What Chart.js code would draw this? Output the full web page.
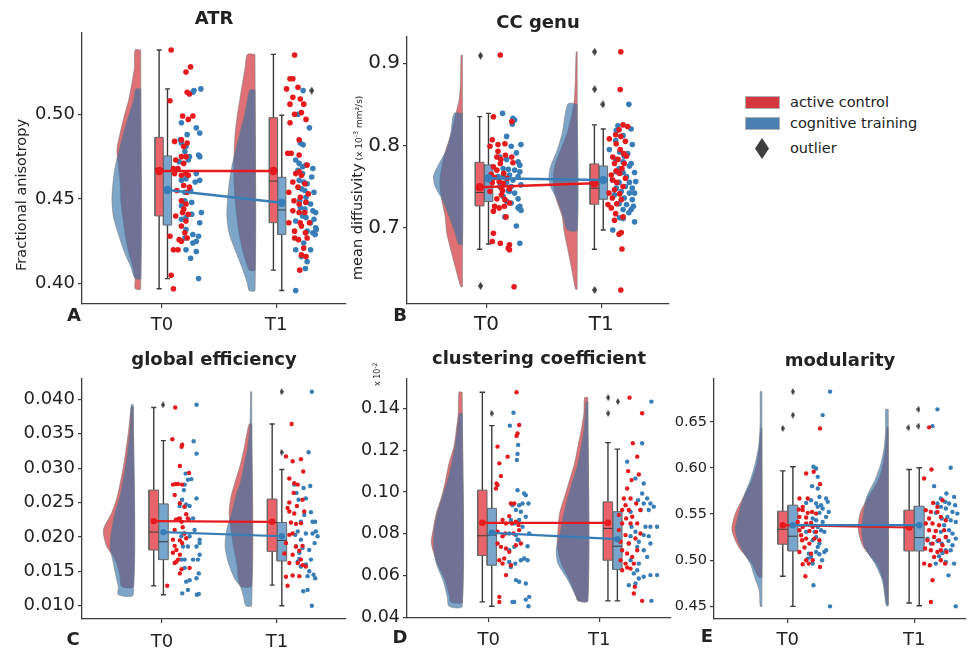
<!DOCTYPE html>
<html>
<head>
<meta charset="utf-8">
<script src="https://cdn.jsdelivr.net/npm/chart.js@4.4.1/dist/chart.umd.min.js"></script>
<style>
  body { margin: 0; background: #fff; width: 971px; height: 650px; position: relative; overflow: hidden; font-family: 'DejaVu Sans', sans-serif; color: #222; }
  canvas { position: absolute; }
  .lg { position: absolute; font-size: 14.5px; line-height: 16px; white-space: nowrap; }
  .sw { position: absolute; width: 33px; height: 11px; border: 1px solid #b0b0b0; }
</style>
</head>
<body>
<canvas id="pA"></canvas>
<canvas id="pB"></canvas>
<canvas id="pC"></canvas>
<canvas id="pD"></canvas>
<canvas id="pE"></canvas>
<div id="legend"></div>
<script>
const timeLabels = ['T0', 'T1'];
const groupNames = ['active control', 'cognitive training', 'outlier'];

// ---------- ATR (fractional anisotropy) ----------
const atrTicks = [0.40, 0.45, 0.50];
const atrMeanRed = [0.4665, 0.4665];
const atrMeanBlue = [0.4553, 0.4478];
// whisker low, q1, median, q3, whisker high
const atrBoxRed = [[0.397, 0.440, 0.468, 0.4864, 0.538], [0.408, 0.436, 0.4606, 0.498, 0.5354]];
const atrBoxBlue = [[0.403, 0.4346, 0.4665, 0.4754, 0.515], [0.396, 0.4291, 0.4435, 0.4628, 0.4994]];
// [value, density]
const atrVioRedT0 = [[0.538,17],[0.528,19],[0.518,27],[0.508,37],[0.499,50],[0.489,62],[0.479,72],[0.469,67],[0.459,62],[0.449,60],[0.439,54],[0.429,47],[0.419,37],[0.410,24],[0.403,17],[0.397,17]];
const atrVioBlueT0 = [[0.515,15],[0.508,22],[0.499,37],[0.489,52],[0.479,65],[0.469,77],[0.459,84],[0.449,87],[0.439,82],[0.429,67],[0.419,50],[0.410,30],[0.403,17]];
const atrVioRedT1 = [[0.5354,23],[0.5275,30],[0.5183,38],[0.5085,46],[0.4986,54],[0.4888,60],[0.4789,63],[0.4691,64],[0.4593,63],[0.4494,60],[0.4396,55],[0.4297,48],[0.4199,38],[0.410,22],[0.408,18]];
const atrVioBlueT1 = [[0.5144,16],[0.5085,23],[0.4986,33],[0.4888,46],[0.4789,58],[0.4691,70],[0.4593,78],[0.4494,83],[0.4396,85],[0.4297,78],[0.4199,60],[0.410,40],[0.4002,23],[0.396,18]];
const atrRedT0 = [[0.08,0.538],[0.25,0.528],[0.21,0.525],[0.24,0.512],[0.22,0.513],[0.07,0.508],[0.18,0.499],[0.23,0.497],[0.27,0.499],[0.11,0.484],[0.17,0.485],[0.19,0.481],[0.22,0.483],[0.17,0.475],[0.12,0.473],[0.21,0.475],[0.10,0.468],[0.19,0.471],[0.14,0.468],[0.11,0.465],[0.21,0.465],[0.17,0.464],[0.23,0.464],[0.19,0.458],[0.24,0.457],[0.13,0.455],[0.22,0.454],[0.17,0.449],[0.21,0.447],[0.19,0.444],[0.18,0.442],[0.23,0.441],[0.12,0.440],[0.21,0.437],[0.17,0.434],[0.07,0.428],[0.20,0.430],[0.15,0.426],[0.22,0.427],[0.17,0.425],[0.14,0.420],[0.10,0.420],[0.08,0.405],[0.10,0.397]];
const atrBlueT0 = [[0.34,0.515],[0.28,0.514],[0.27,0.513],[0.30,0.492],[0.33,0.489],[0.17,0.495],[0.22,0.488],[0.16,0.485],[0.17,0.483],[0.21,0.481],[0.20,0.478],[0.24,0.475],[0.33,0.475],[0.32,0.476],[0.15,0.472],[0.23,0.473],[0.30,0.465],[0.17,0.461],[0.21,0.462],[0.29,0.460],[0.33,0.461],[0.25,0.455],[0.20,0.454],[0.18,0.448],[0.20,0.449],[0.26,0.448],[0.17,0.446],[0.345,0.442],[0.21,0.439],[0.17,0.438],[0.26,0.441],[0.33,0.436],[0.21,0.432],[0.20,0.427],[0.27,0.429],[0.32,0.428],[0.30,0.425],[0.27,0.424],[0.21,0.420],[0.25,0.415],[0.30,0.419],[0.32,0.403]];
const atrRedT1 = [[1.16,0.535],[1.12,0.521],[1.145,0.521],[1.09,0.515],[1.19,0.516],[1.145,0.510],[1.21,0.509],[1.24,0.506],[1.12,0.506],[1.22,0.501],[1.16,0.500],[1.26,0.497],[1.12,0.495],[1.20,0.485],[1.10,0.477],[1.13,0.477],[1.20,0.476],[1.27,0.470],[1.17,0.465],[1.20,0.466],[1.22,0.464],[1.145,0.460],[1.19,0.457],[1.25,0.459],[1.11,0.454],[1.21,0.451],[1.28,0.453],[1.155,0.449],[1.20,0.447],[1.26,0.448],[1.145,0.443],[1.20,0.442],[1.25,0.442],[1.11,0.436],[1.21,0.436],[1.29,0.436],[1.16,0.431],[1.22,0.434],[1.255,0.430],[1.195,0.426],[1.27,0.427],[1.16,0.427],[1.24,0.421],[1.22,0.417],[1.26,0.416],[1.205,0.408]];
const atrBlueT1 = [[1.235,0.514],[1.29,0.492],[1.19,0.500],[1.21,0.483],[1.235,0.482],[1.17,0.473],[1.20,0.471],[1.23,0.469],[1.26,0.470],[1.32,0.468],[1.19,0.467],[1.23,0.465],[1.31,0.463],[1.20,0.461],[1.24,0.460],[1.27,0.459],[1.22,0.456],[1.25,0.455],[1.33,0.454],[1.26,0.451],[1.205,0.449],[1.26,0.448],[1.30,0.447],[1.21,0.445],[1.25,0.444],[1.32,0.443],[1.345,0.442],[1.23,0.440],[1.26,0.439],[1.17,0.437],[1.33,0.438],[1.30,0.436],[1.345,0.433],[1.27,0.431],[1.32,0.430],[1.34,0.429],[1.35,0.432],[1.17,0.420],[1.24,0.424],[1.22,0.416],[1.30,0.420],[1.27,0.413],[1.255,0.409],[1.17,0.396]];
const atrOutliers = [[1.31, 0.514]];

// ---------- CC genu (mean diffusivity) ----------
const ccgTicks = [0.7, 0.8, 0.9];
const ccgMeanRed = [0.7491, 0.754];
const ccgMeanBlue = [0.760, 0.758];
const ccgBoxRed = [[0.6736, 0.7264, 0.7426, 0.7795, 0.8351], [0.6736, 0.7284, 0.7479, 0.7775, 0.825]];
const ccgBoxBlue = [[0.680, 0.7317, 0.750, 0.7763, 0.839], [0.697, 0.7345, 0.758, 0.775, 0.820]];
const ccgVioRedT0 = [[0.910,4],[0.8757,6],[0.8554,10],[0.8351,22],[0.8148,33],[0.7945,50],[0.7742,62],[0.754,68],[0.7337,62],[0.7134,52],[0.6931,47],[0.6728,35],[0.6525,22],[0.628,5]];
const ccgVioBlueT0 = [[0.839,25],[0.8148,35],[0.7945,48],[0.7742,75],[0.762,87],[0.750,82],[0.7337,60],[0.7134,40],[0.6931,22],[0.680,12]];
const ccgVioRedT1 = [[0.914,3],[0.8757,6],[0.8505,10],[0.8148,30],[0.7945,50],[0.7742,68],[0.754,72],[0.7337,62],[0.7134,45],[0.697,40],[0.6728,28],[0.6525,18],[0.625,5]];
const ccgVioBlueT1 = [[0.8505,28],[0.8148,45],[0.7945,60],[0.7742,80],[0.762,85],[0.750,80],[0.7337,60],[0.7134,42],[0.697,30]];
const ccgRedT0 = [[0.12,0.910],[0.06,0.835],[0.05,0.807],[0.10,0.801],[0.03,0.799],[0.16,0.802],[0.10,0.793],[0.09,0.786],[0.125,0.783],[0.12,0.778],[0.22,0.786],[0.23,0.779],[0.06,0.774],[0.09,0.770],[0.15,0.766],[0.07,0.761],[0.11,0.756],[0.05,0.755],[0.145,0.754],[0.03,0.744],[0.13,0.740],[0.09,0.735],[0.16,0.734],[0.20,0.730],[0.155,0.726],[0.07,0.726],[0.11,0.724],[0.06,0.720],[0.20,0.747],[0.22,0.829],[0.165,0.788],[0.06,0.693],[0.05,0.683],[0.12,0.681],[0.20,0.679],[0.19,0.675],[0.20,0.673],[0.24,0.628],[0.14,0.745],[0.18,0.760],[0.04,0.765],[0.17,0.713],[0.13,0.748]];
const ccgBlueT0 = [[0.14,0.839],[0.23,0.833],[0.245,0.831],[0.225,0.826],[0.30,0.801],[0.175,0.811],[0.215,0.799],[0.26,0.791],[0.115,0.786],[0.175,0.783],[0.275,0.780],[0.29,0.776],[0.145,0.772],[0.19,0.771],[0.245,0.770],[0.29,0.768],[0.20,0.764],[0.145,0.762],[0.275,0.762],[0.23,0.758],[0.175,0.755],[0.115,0.750],[0.215,0.750],[0.30,0.752],[0.20,0.744],[0.245,0.742],[0.145,0.738],[0.275,0.735],[0.175,0.732],[0.215,0.730],[0.29,0.726],[0.275,0.724],[0.30,0.721],[0.16,0.713],[0.26,0.702],[0.29,0.681],[0.10,0.762],[0.19,0.745]];
const ccgRedT1 = [[1.17,0.914],[1.165,0.868],[1.19,0.825],[1.155,0.819],[1.125,0.813],[1.17,0.811],[1.07,0.808],[1.21,0.805],[1.13,0.802],[1.165,0.795],[1.195,0.790],[1.22,0.787],[1.10,0.786],[1.145,0.783],[1.115,0.778],[1.20,0.778],[1.18,0.772],[1.13,0.769],[1.087,0.764],[1.16,0.766],[1.10,0.758],[1.135,0.755],[1.19,0.750],[1.115,0.746],[1.067,0.742],[1.16,0.741],[1.096,0.736],[1.174,0.734],[1.135,0.729],[1.058,0.728],[1.087,0.724],[1.125,0.717],[1.19,0.713],[1.115,0.709],[1.174,0.694],[1.155,0.692],[1.18,0.674],[1.17,0.624],[1.23,0.823],[1.21,0.760]];
const ccgBlueT1 = [[1.24,0.850],[1.145,0.824],[1.26,0.820],[1.13,0.818],[1.19,0.812],[1.125,0.806],[1.27,0.801],[1.07,0.795],[1.16,0.792],[1.23,0.790],[1.20,0.787],[1.125,0.783],[1.19,0.780],[1.26,0.778],[1.245,0.775],[1.155,0.772],[1.13,0.768],[1.19,0.767],[1.29,0.767],[1.22,0.762],[1.096,0.758],[1.155,0.755],[1.245,0.755],[1.30,0.756],[1.21,0.750],[1.13,0.748],[1.27,0.748],[1.174,0.744],[1.115,0.740],[1.245,0.742],[1.29,0.742],[1.20,0.736],[1.155,0.729],[1.27,0.734],[1.22,0.728],[1.28,0.726],[1.19,0.722],[1.26,0.722],[1.24,0.718],[1.16,0.712],[1.19,0.711],[1.29,0.707],[1.10,0.697]];
const ccgOutliers = [[-0.052,0.9093],[-0.052,0.629],[0.942,0.914],[0.942,0.8684],[0.942,0.6241],[1.014,0.850]];

// ---------- global efficiency ----------
const geffTicks = [0.010, 0.015, 0.020, 0.025, 0.030, 0.035, 0.040];
const geffMeanRed = [0.0223, 0.0222];
const geffMeanBlue = [0.0207, 0.0201];
const geffBoxRed = [[0.0129, 0.0181, 0.0207, 0.0268, 0.0388], [0.0130, 0.0179, 0.0221, 0.0255, 0.0364]];
const geffBoxBlue = [[0.0116, 0.0167, 0.0193, 0.0248, 0.034], [0.010, 0.0165, 0.0195, 0.0221, 0.0298]];
const geffVioRedT0 = [[0.0389,6],[0.0355,14],[0.0307,28],[0.0259,48],[0.0235,65],[0.0210,90],[0.0186,80],[0.0172,60],[0.0162,50],[0.0143,40],[0.0128,35]];
const geffVioBlueT0 = [[0.0392,6],[0.0355,10],[0.0307,22],[0.0259,40],[0.0235,55],[0.0210,65],[0.0186,70],[0.0162,60],[0.0138,50],[0.0128,45],[0.0116,45]];
const geffVioRedT1 = [[0.0364,8],[0.0331,22],[0.0307,33],[0.0283,48],[0.0259,62],[0.0235,68],[0.0210,62],[0.0186,55],[0.0162,45],[0.0129,35]];
const geffVioBlueT1 = [[0.0411,3],[0.0364,5],[0.0331,12],[0.0307,22],[0.0283,32],[0.0259,48],[0.0235,60],[0.0210,75],[0.0186,80],[0.0162,70],[0.0138,50],[0.0129,35],[0.0114,25],[0.010,18]];
const geffRedT0 = [[0.115,0.0388],[0.09,0.0342],[0.175,0.0334],[0.17,0.0331],[0.155,0.0303],[0.235,0.0293],[0.12,0.0277],[0.095,0.0276],[0.14,0.0277],[0.175,0.0276],[0.11,0.0261],[0.155,0.0249],[0.195,0.0244],[0.155,0.0227],[0.14,0.0226],[0.17,0.0222],[0.225,0.0227],[0.18,0.0214],[0.11,0.0210],[0.095,0.0196],[0.155,0.0195],[0.11,0.0187],[0.125,0.0181],[0.175,0.0191],[0.095,0.0177],[0.155,0.0174],[0.14,0.0167],[0.11,0.0162],[0.125,0.0164],[0.17,0.0153],[0.24,0.0155],[0.155,0.0147],[0.045,0.0129],[0.195,0.0205],[0.21,0.0198],[0.12,0.0225],[0.21,0.0233]];
const geffBlueT0 = [[0.30,0.0392],[0.275,0.0339],[0.30,0.0321],[0.205,0.0292],[0.225,0.0283],[0.255,0.0284],[0.197,0.0276],[0.19,0.0268],[0.175,0.0254],[0.21,0.0247],[0.24,0.0245],[0.197,0.0244],[0.153,0.0245],[0.30,0.0256],[0.27,0.0227],[0.234,0.0225],[0.283,0.0210],[0.197,0.0205],[0.24,0.0201],[0.327,0.0196],[0.327,0.0191],[0.30,0.0186],[0.168,0.0201],[0.182,0.0186],[0.225,0.0186],[0.168,0.0167],[0.197,0.0167],[0.27,0.0167],[0.312,0.0167],[0.327,0.0174],[0.30,0.0140],[0.21,0.0135],[0.24,0.0137],[0.176,0.0118],[0.225,0.0123],[0.303,0.0116],[0.32,0.0117],[0.197,0.0155],[0.32,0.0147]];
const geffRedT1 = [[1.127,0.0364],[1.078,0.0317],[1.136,0.0310],[1.208,0.0313],[1.228,0.0295],[1.107,0.0285],[1.15,0.0278],[1.18,0.0276],[1.145,0.0264],[1.222,0.0254],[1.107,0.0250],[1.092,0.0242],[1.173,0.0245],[1.107,0.0237],[1.15,0.0234],[1.237,0.0237],[1.121,0.0221],[1.165,0.0219],[1.208,0.0220],[1.107,0.0203],[1.136,0.0205],[1.078,0.0191],[1.165,0.0186],[1.222,0.0187],[1.064,0.0176],[1.136,0.0174],[1.194,0.0180],[1.208,0.0167],[1.107,0.0162],[1.18,0.0162],[1.136,0.0144],[1.078,0.0142],[1.194,0.0143],[1.092,0.0129],[1.25,0.0157],[1.222,0.0159]];
const geffBlueT1 = [[1.303,0.0411],[1.275,0.0323],[1.15,0.0276],[1.17,0.0264],[1.231,0.0271],[1.289,0.0274],[1.188,0.0254],[1.251,0.0256],[1.295,0.0236],[1.237,0.0232],[1.208,0.0222],[1.309,0.0222],[1.332,0.0222],[1.18,0.0208],[1.251,0.0205],[1.309,0.0205],[1.338,0.0208],[1.353,0.0201],[1.208,0.0196],[1.165,0.0186],[1.222,0.0184],[1.194,0.0177],[1.28,0.0181],[1.327,0.0191],[1.295,0.0167],[1.18,0.0164],[1.208,0.0157],[1.251,0.0160],[1.28,0.0150],[1.318,0.0145],[1.266,0.0143],[1.228,0.0121],[1.266,0.0123],[1.332,0.0140],[1.303,0.0100],[1.159,0.0203],[1.194,0.0168]];
const geffOutliers = [[0.009,0.0392],[1.04,0.0411],[1.04,0.0323]];

// ---------- clustering coefficient ----------
const clusTicks = [0.04, 0.06, 0.08, 0.10, 0.12, 0.14];
const clusMeanRed = [0.0853, 0.0853];
const clusMeanBlue = [0.0805, 0.0775];
const clusBoxRed = [[0.0475, 0.0697, 0.0791, 0.1009, 0.1477], [0.048, 0.0674, 0.0826, 0.0953, 0.1236]];
const clusBoxBlue = [[0.0454, 0.065, 0.0794, 0.0922, 0.1317], [0.048, 0.063, 0.0741, 0.0906, 0.1205]];
const clusVioRedT0 = [[0.1477,10],[0.1376,12],[0.1296,18],[0.1217,25],[0.1137,40],[0.1057,50],[0.0977,62],[0.0898,78],[0.0818,88],[0.0754,93],[0.0658,75],[0.0579,52],[0.0499,38],[0.0475,35]];
const clusVioBlueT0 = [[0.1376,8],[0.1296,15],[0.1217,22],[0.1137,32],[0.1057,44],[0.0977,60],[0.0898,75],[0.0818,85],[0.0738,86],[0.0658,78],[0.0579,58],[0.0499,45],[0.0454,40]];
const clusVioRedT1 = [[0.1451,10],[0.1376,12],[0.1296,20],[0.1217,30],[0.1137,40],[0.1057,55],[0.0977,70],[0.0898,85],[0.0818,90],[0.0738,92],[0.0658,80],[0.0579,55],[0.0499,35],[0.048,30]];
const clusVioBlueT1 = [[0.1432,5],[0.1296,12],[0.1137,30],[0.1057,45],[0.0977,60],[0.0898,72],[0.0818,82],[0.0722,95],[0.0658,90],[0.0579,60],[0.0499,35],[0.048,30]];
const clusRedT0 = [[0.222,0.1477],[0.243,0.132],[0.23,0.128],[0.222,0.1268],[0.151,0.1169],[0.071,0.1217],[0.085,0.1137],[0.098,0.1076],[0.063,0.1041],[0.071,0.1033],[0.058,0.1017],[0.177,0.0945],[0.204,0.0945],[0.164,0.0885],[0.111,0.0866],[0.138,0.085],[0.217,0.0858],[0.185,0.085],[0.238,0.0842],[0.243,0.0818],[0.071,0.081],[0.111,0.0789],[0.132,0.0802],[0.198,0.0802],[0.098,0.0738],[0.138,0.073],[0.071,0.0754],[0.164,0.0714],[0.124,0.0682],[0.085,0.0674],[0.111,0.0658],[0.138,0.0603],[0.177,0.065],[0.085,0.0499],[0.085,0.0475],[0.217,0.0746],[0.257,0.0754]];
const clusBlueT0 = [[0.198,0.1379],[0.169,0.1317],[0.235,0.1225],[0.23,0.1182],[0.225,0.1153],[0.23,0.1009],[0.283,0.0993],[0.296,0.0985],[0.27,0.0945],[0.19,0.0937],[0.243,0.0937],[0.217,0.0914],[0.317,0.0945],[0.257,0.0906],[0.243,0.0866],[0.204,0.085],[0.177,0.0866],[0.296,0.0882],[0.27,0.0834],[0.323,0.0802],[0.164,0.0802],[0.217,0.0794],[0.23,0.0773],[0.238,0.077],[0.204,0.0738],[0.164,0.0722],[0.31,0.0741],[0.283,0.0682],[0.257,0.0674],[0.164,0.0666],[0.31,0.0674],[0.212,0.0658],[0.177,0.0642],[0.217,0.0579],[0.243,0.0571],[0.296,0.0563],[0.19,0.0475],[0.204,0.0475],[0.296,0.0486],[0.317,0.0454],[0.323,0.0499]];
const clusRedT1 = [[1.122,0.1451],[1.222,0.1376],[1.148,0.1233],[1.183,0.1169],[1.111,0.110],[1.196,0.1084],[1.138,0.1057],[1.103,0.1017],[1.077,0.0969],[1.13,0.0969],[1.09,0.0937],[1.175,0.0945],[1.063,0.0914],[1.116,0.0914],[1.209,0.0914],[1.037,0.089],[1.095,0.0874],[1.143,0.0882],[1.063,0.085],[1.13,0.085],[1.183,0.085],[1.037,0.0818],[1.09,0.0794],[1.209,0.0802],[1.05,0.0762],[1.116,0.0754],[1.169,0.0778],[1.063,0.0722],[1.103,0.0706],[1.143,0.069],[1.183,0.0722],[1.05,0.0674],[1.09,0.0658],[1.13,0.0634],[1.156,0.0658],[1.063,0.0626],[1.164,0.0547],[1.156,0.0515],[1.222,0.048],[1.103,0.0639]];
const clusBlueT1 = [[1.296,0.1432],[1.222,0.1233],[1.103,0.1145],[1.169,0.1065],[1.235,0.1041],[1.222,0.0993],[1.262,0.0969],[1.19,0.0961],[1.288,0.0945],[1.235,0.0945],[1.13,0.0906],[1.209,0.0914],[1.275,0.0914],[1.315,0.093],[1.138,0.0834],[1.249,0.0834],[1.288,0.0834],[1.341,0.0834],[1.169,0.081],[1.235,0.0794],[1.275,0.0789],[1.13,0.0789],[1.196,0.0762],[1.116,0.0754],[1.183,0.0738],[1.235,0.0722],[1.288,0.0754],[1.13,0.0674],[1.196,0.0658],[1.262,0.069],[1.156,0.0611],[1.196,0.0587],[1.235,0.0595],[1.288,0.0603],[1.341,0.0603],[1.169,0.0563],[1.116,0.0555],[1.296,0.048],[1.183,0.0626]];
const clusOutliers = [[0.024,0.1376],[0.952,0.1451],[0.952,0.1376],[1.029,0.1432]];

// ---------- modularity ----------
const modTicks = [0.45, 0.50, 0.55, 0.60, 0.65];
const modMeanRed = [0.5379, 0.5354];
const modMeanBlue = [0.5379, 0.5379];
const modBoxRed = [[0.4826, 0.5173, 0.5335, 0.5531, 0.5968], [0.4536, 0.51, 0.5361, 0.5542, 0.5983]];
const modBoxBlue = [[0.45, 0.51, 0.526, 0.5596, 0.6012], [0.4507, 0.51, 0.5245, 0.5585, 0.6001]];
const modVioRedT0 = [[0.6428,3],[0.6229,8],[0.6048,15],[0.5867,30],[0.5686,55],[0.5505,80],[0.5325,90],[0.5144,70],[0.4963,30],[0.4818,10]];
const modVioBlueT0 = [[0.6826,5],[0.659,5],[0.641,6],[0.6229,10],[0.6048,20],[0.5867,35],[0.5686,55],[0.5505,70],[0.5325,80],[0.5144,65],[0.4963,35],[0.4818,22],[0.4674,8],[0.45,5]];
const modVioRedT1 = [[0.6439,4],[0.6229,8],[0.6048,15],[0.5867,30],[0.5686,60],[0.5505,85],[0.5325,90],[0.5144,75],[0.4963,35],[0.4782,15],[0.4601,8],[0.4522,5]];
const modVioBlueT1 = [[0.6634,8],[0.641,8],[0.6229,12],[0.6048,22],[0.5867,40],[0.5686,65],[0.5505,75],[0.5325,80],[0.5144,72],[0.4963,40],[0.4782,18],[0.4601,10],[0.4507,6]];
const modRedT0 = [[0.255,0.6428],[0.145,0.5939],[0.205,0.5958],[0.255,0.5824],[0.092,0.5668],[0.158,0.5668],[0.118,0.5578],[0.087,0.5549],[0.118,0.5542],[0.192,0.5523],[0.158,0.5513],[0.224,0.5505],[0.092,0.5469],[0.145,0.5462],[0.079,0.5415],[0.184,0.5404],[0.145,0.5397],[0.118,0.5361],[0.197,0.5361],[0.092,0.5325],[0.171,0.5317],[0.224,0.5307],[0.105,0.527],[0.145,0.5234],[0.211,0.5234],[0.113,0.5216],[0.171,0.518],[0.132,0.5137],[0.092,0.5089],[0.184,0.5071],[0.145,0.4999],[0.118,0.4956],[0.166,0.4963],[0.255,0.4927],[0.139,0.4826],[0.197,0.4999],[0.25,0.5216]];
const modBlueT0 = [[0.334,0.6826],[0.276,0.6572],[0.203,0.6012],[0.224,0.5994],[0.237,0.5903],[0.192,0.5802],[0.237,0.5777],[0.25,0.5686],[0.303,0.5668],[0.316,0.5632],[0.263,0.5596],[0.224,0.5614],[0.184,0.565],[0.145,0.5621],[0.237,0.5578],[0.276,0.556],[0.324,0.5523],[0.25,0.5513],[0.303,0.5469],[0.197,0.5451],[0.224,0.5433],[0.276,0.5415],[0.237,0.5361],[0.263,0.5325],[0.211,0.5307],[0.289,0.5307],[0.145,0.5307],[0.224,0.5252],[0.197,0.5216],[0.25,0.518],[0.237,0.5144],[0.303,0.5108],[0.289,0.5089],[0.224,0.5089],[0.25,0.5064],[0.184,0.5035],[0.158,0.5017],[0.197,0.4963],[0.271,0.4999],[0.203,0.4728],[0.334,0.45],[0.166,0.5071]];
const modRedT1 = [[1.118,0.6439],[1.137,0.5983],[1.079,0.5885],[1.15,0.5621],[1.184,0.5578],[1.224,0.565],[1.092,0.5542],[1.132,0.5523],[1.118,0.5451],[1.184,0.5523],[1.211,0.5469],[1.25,0.5433],[1.092,0.5397],[1.145,0.5397],[1.197,0.5379],[1.118,0.5325],[1.171,0.5317],[1.237,0.5325],[1.158,0.5252],[1.105,0.5216],[1.197,0.5216],[1.145,0.518],[1.224,0.5162],[1.087,0.5126],[1.132,0.5108],[1.184,0.5089],[1.211,0.5108],[1.255,0.5089],[1.158,0.5035],[1.211,0.4999],[1.124,0.4945],[1.079,0.4963],[1.245,0.4963],[1.145,0.4782],[1.132,0.4547],[1.25,0.5252]];
const modBlueT1 = [[1.184,0.6634],[1.145,0.6453],[1.289,0.6001],[1.158,0.5802],[1.255,0.5722],[1.211,0.5668],[1.245,0.5632],[1.184,0.5614],[1.276,0.5614],[1.316,0.5686],[1.324,0.5596],[1.211,0.5578],[1.25,0.556],[1.303,0.5523],[1.171,0.5513],[1.342,0.5505],[1.263,0.5469],[1.218,0.5451],[1.289,0.5433],[1.329,0.5415],[1.237,0.5379],[1.276,0.5325],[1.211,0.5307],[1.303,0.5288],[1.25,0.5252],[1.329,0.5234],[1.271,0.5209],[1.184,0.5209],[1.218,0.518],[1.303,0.5162],[1.25,0.5108],[1.289,0.5108],[1.224,0.5079],[1.197,0.5042],[1.25,0.4981],[1.316,0.4963],[1.171,0.4963],[1.271,0.4836],[1.329,0.45],[1.132,0.518],[1.105,0.5234]];
const modOutliers = [[-0.04,0.6428],[0.04,0.6826],[0.04,0.6572],[0.955,0.6435],[1.034,0.6634],[1.034,0.6453]];

// ---------- styling ----------
Chart.defaults.font.family = "'DejaVu Sans', sans-serif";
Chart.defaults.color = '#222';
const RED = '#e41a1c', BLUE = '#377eb8';
const VIO_RED = 'rgba(204,35,44,0.65)', VIO_BLUE = 'rgba(52,114,169,0.64)';
const BOX_RED = '#e8646a', BOX_BLUE = '#78a5cd';
const INK = '#3c3c3c';

function diamond(w, h) {
  const c = document.createElement('canvas');
  c.width = w; c.height = h;
  const g = c.getContext('2d');
  g.fillStyle = '#3d3d3d';
  g.beginPath();
  g.moveTo(w / 2, 0); g.lineTo(w, h / 2); g.lineTo(w / 2, h); g.lineTo(0, h / 2);
  g.closePath(); g.fill();
  return c;
}

const panels = [
  { id: 'pA', title: 'ATR', area: [82, 347, 33, 304], xr: [-0.70, 1.61], yr: [0.388, 0.548],
    yTicks: atrTicks, dec: 2, xTicks: [0, 1], groups: [0, 1],
    off: { vio: -0.186, red: -0.025, blue: 0.048, half: 0.036 }, vk: 1 / 345,
    vio: { red: [atrVioRedT0, atrVioRedT1], blue: [atrVioBlueT0, atrVioBlueT1] },
    box: { red: atrBoxRed, blue: atrBoxBlue }, mean: { red: atrMeanRed, blue: atrMeanBlue },
    pts: { red: [atrRedT0, atrRedT1], blue: [atrBlueT0, atrBlueT1] }, out: atrOutliers,
    yw: 80, xh: 40, titleY: 19, fy: 18, fx: 18, xPad: 7, ptR: 2.8, meanR: 4.2, meanW: 2.5, dia: diamond(5, 8),
    texts: [
      { runs: [['A', 18, 'bold', 0]], x: 74, y: 316, rot: false, align: 'center', base: 'middle' },
      { runs: [['Fractional anisotropy', 14.5, 'normal', 0]], x: 22, y: 195, rot: true, align: 'center', base: 'middle' }
    ] },
  { id: 'pB', title: 'CC genu', area: [407, 670, 37, 304], xr: [-0.693, 1.59], yr: [0.607, 0.932],
    yTicks: ccgTicks, dec: 1, xTicks: [0, 1], groups: [0, 1],
    off: { vio: -0.21, red: -0.06, blue: 0.017, half: 0.038 }, vk: 1 / 345,
    vio: { red: [ccgVioRedT0, ccgVioRedT1], blue: [ccgVioBlueT0, ccgVioBlueT1] },
    box: { red: ccgBoxRed, blue: ccgBoxBlue }, mean: { red: ccgMeanRed, blue: ccgMeanBlue },
    pts: { red: [ccgRedT0, ccgRedT1], blue: [ccgBlueT0, ccgBlueT1] }, out: ccgOutliers,
    yw: 80, xh: 40, titleY: 23, fy: 20, fx: 20, xPad: 5, ptR: 2.8, meanR: 4.2, meanW: 2.5, dia: diamond(5, 8),
    texts: [
      { runs: [['B', 18, 'bold', 0]], x: 400, y: 316, rot: false, align: 'center', base: 'middle' },
      { runs: [['mean diffusivity', 14.5, 'normal', 0], [' (x 10', 9, 'normal', 0], ['-3', 6.5, 'normal', 4], [' mm²/s)', 9, 'normal', 0]],
        x: 362, y: 280, rot: true, align: 'start', base: 'alphabetic' }
    ] },
  { id: 'pC', title: 'global efficiency', area: [82, 347, 379, 619], xr: [-0.696, 1.60], yr: [0.00807, 0.04295],
    yTicks: geffTicks, dec: 3, xTicks: [0, 1], groups: [0, 1.03],
    off: { vio: -0.25, red: -0.072, blue: 0.012, half: 0.042 }, vk: 1 / 346,
    vio: { red: [geffVioRedT0, geffVioRedT1], blue: [geffVioBlueT0, geffVioBlueT1] },
    box: { red: geffBoxRed, blue: geffBoxBlue }, mean: { red: geffMeanRed, blue: geffMeanBlue },
    pts: { red: [geffRedT0, geffRedT1], blue: [geffBlueT0, geffBlueT1] }, out: geffOutliers,
    yw: 80, xh: 40, titleY: 360, fy: 18, fx: 18, xPad: 9, ptR: 2.2, meanR: 3.2, meanW: 2.2, dia: diamond(4, 7),
    texts: [
      { runs: [['C', 18, 'bold', 0]], x: 73, y: 640, rot: false, align: 'center', base: 'middle' }
    ] },
  { id: 'pD', title: 'clustering coefficient', area: [407, 672, 379, 618], xr: [-0.65, 1.452], yr: [0.0398, 0.154],
    yTicks: clusTicks, dec: 2, xTicks: [0, 0.88], groups: [0, 1],
    off: { vio: -0.21, red: -0.05, blue: 0.025, half: 0.037 }, vk: 1 / 378,
    vio: { red: [clusVioRedT0, clusVioRedT1], blue: [clusVioBlueT0, clusVioBlueT1] },
    box: { red: clusBoxRed, blue: clusBoxBlue }, mean: { red: clusMeanRed, blue: clusMeanBlue },
    pts: { red: [clusRedT0, clusRedT1], blue: [clusBlueT0, clusBlueT1] }, out: clusOutliers,
    yw: 80, xh: 40, titleY: 359, fy: 17.5, fx: 18, xPad: 8, ptR: 2.2, meanR: 3.2, meanW: 2.2, dia: diamond(4, 7),
    texts: [
      { runs: [['D', 18, 'bold', 0]], x: 400, y: 638, rot: false, align: 'center', base: 'middle' },
      { runs: [['x 10', 8, 'normal', 0], ['-2', 6, 'normal', 3]], x: 380, y: 386, rot: true, align: 'start', base: 'alphabetic' }
    ] },
  { id: 'pE', title: 'modularity', area: [714, 967, 379, 619], xr: [-0.584, 1.41], yr: [0.4363, 0.6963],
    yTicks: modTicks, dec: 2, xTicks: [0, 1], groups: [0, 1],
    off: { vio: -0.205, red: -0.04, blue: 0.04, half: 0.039 }, vk: 1 / 380,
    vio: { red: [modVioRedT0, modVioRedT1], blue: [modVioBlueT0, modVioBlueT1] },
    box: { red: modBoxRed, blue: modBoxBlue }, mean: { red: modMeanRed, blue: modMeanBlue },
    pts: { red: [modRedT0, modRedT1], blue: [modBlueT0, modBlueT1] }, out: modOutliers,
    yw: 60, xh: 40, titleY: 361, fy: 14.5, fx: 18, xPad: 7, ptR: 2.2, meanR: 3.2, meanW: 2.2, dia: diamond(4, 7),
    texts: [
      { runs: [['E', 18, 'bold', 0]], x: 707, y: 637, rot: false, align: 'center', base: 'middle' }
    ] }
];

// half violin: flat side on the right, density growing to the left
function violinShape(profile, base, k) {
  const top = profile[0][0], bottom = profile[profile.length - 1][0];
  const pts = [{ x: base, y: top }];
  profile.forEach(([v, d]) => pts.push({ x: base - d * k, y: v }));
  pts.push({ x: base, y: bottom }, { x: base, y: top });
  return pts;
}

function buildDatasets(p) {
  const ds = [];
  const o = p.off, cap = 0.022;
  const lineBase = { type: 'line', showLine: true, pointRadius: 0, tension: 0 };

  [['red', VIO_RED, 100], ['blue', VIO_BLUE, 99]].forEach(([g, col, ord]) => {
    p.vio[g].forEach((prof, ti) => ds.push({ ...lineBase, tension: 0.25,
      data: violinShape(prof, p.groups[ti] + o.vio, p.vk), fill: 'shape',
      backgroundColor: col, borderColor: 'rgba(120,120,120,0.55)', borderWidth: 1, order: ord }));
  });

  [['red', BOX_RED], ['blue', BOX_BLUE]].forEach(([g, col]) => {
    p.box[g].forEach(([mn, q1, md, q3, mx], ti) => {
      const bx = p.groups[ti] + o[g], h = o.half;
      ds.push({ ...lineBase, borderColor: INK, borderWidth: 1.4, order: 90,
        data: [{ x: bx, y: mn }, { x: bx, y: mx }, { x: bx, y: null },
               { x: bx - cap, y: mn }, { x: bx + cap, y: mn }, { x: bx, y: null },
               { x: bx - cap, y: mx }, { x: bx + cap, y: mx }] });
      ds.push({ ...lineBase, fill: 'shape', backgroundColor: col, borderColor: '#666', borderWidth: 1, order: 80,
        data: [{ x: bx - h, y: q1 }, { x: bx + h, y: q1 }, { x: bx + h, y: q3 }, { x: bx - h, y: q3 }, { x: bx - h, y: q1 }] });
      ds.push({ ...lineBase, borderColor: INK, borderWidth: 1, order: 79,
        data: [{ x: bx - h, y: md }, { x: bx + h, y: md }] });
    });
  });

  [['red', RED, 60], ['blue', BLUE, 61]].forEach(([g, col, ord]) => {
    p.pts[g].forEach(list => ds.push({ type: 'scatter', order: ord,
      data: list.map(([x, y]) => ({ x, y })), pointRadius: p.ptR, backgroundColor: col, borderWidth: 0 }));
  });

  ds.push({ type: 'scatter', order: 45, data: p.out.map(([x, y]) => ({ x, y })), pointStyle: p.dia, pointRadius: 4 });

  [['red', RED, 41], ['blue', BLUE, 40]].forEach(([g, col, ord]) => {
    ds.push({ ...lineBase, order: ord, borderColor: col, borderWidth: p.meanW,
      pointRadius: p.meanR, pointBackgroundColor: col, pointBorderWidth: 0,
      data: p.mean[g].map((v, ti) => ({ x: p.groups[ti] + o[g], y: v })) });
  });
  return ds;
}

function drawTexts(ctx, p, left, top) {
  p.texts.forEach(t => {
    ctx.save();
    ctx.fillStyle = '#222';
    ctx.textBaseline = t.base;
    ctx.translate(t.x - left, t.y - top);
    if (t.rot) ctx.rotate(-Math.PI / 2);
    const widths = t.runs.map(([s, size, weight]) => {
      ctx.font = `${weight} ${size}px 'DejaVu Sans'`;
      return ctx.measureText(s).width;
    });
    const total = widths.reduce((a, b) => a + b, 0);
    let cx = t.align === 'center' ? -total / 2 : 0;
    ctx.textAlign = 'left';
    t.runs.forEach(([s, size, weight, rise], i) => {
      ctx.font = `${weight} ${size}px 'DejaVu Sans'`;
      ctx.fillText(s, cx, -rise);
      cx += widths[i];
    });
    ctx.restore();
  });
}

panels.forEach(p => {
  const [l, r, t, b] = p.area;
  const left = l - p.yw, top = t - 45;
  const w = r - left + 4, h = b + p.xh - top;
  const cv = document.getElementById(p.id);
  cv.width = w; cv.height = h;
  cv.style.left = left + 'px'; cv.style.top = top + 'px';
  cv.style.width = w + 'px'; cv.style.height = h + 'px';

  const titleSize = 18, lh = titleSize * 1.2;
  const padTop = p.titleY - top - lh / 2;
  const axisGrid = { drawOnChartArea: false, drawTicks: true, tickLength: 4, color: INK, lineWidth: 1.2 };

  new Chart(cv, {
    type: 'scatter',
    data: { datasets: buildDatasets(p) },
    options: {
      responsive: false, animation: false, events: [], devicePixelRatio: 1,
      layout: { padding: { left: 0, right: 4, top: 0, bottom: 0 } },
      plugins: {
        legend: { display: false }, tooltip: { enabled: false },
        title: { display: true, text: p.title, fullSize: false, color: '#222',
          font: { size: titleSize, weight: 'bold' }, padding: { top: padTop, bottom: 45 - lh - padTop } }
      },
      scales: {
        x: { type: 'linear', min: p.xr[0], max: p.xr[1],
          afterBuildTicks: s => { s.ticks = p.xTicks.map(v => ({ value: v })); },
          afterFit: s => { s.height = p.xh; },
          ticks: { callback: (v, i) => timeLabels[i], font: { size: p.fx }, color: '#222', padding: p.xPad, maxRotation: 0, autoSkip: false },
          grid: axisGrid, border: { color: INK, width: 1.3 } },
        y: { type: 'linear', min: p.yr[0], max: p.yr[1],
          afterBuildTicks: s => { s.ticks = p.yTicks.map(v => ({ value: v })); },
          afterFit: s => { s.width = p.yw; },
          ticks: { callback: v => v.toFixed(p.dec), font: { size: p.fy }, color: '#222', padding: 3, autoSkip: false },
          grid: axisGrid, border: { color: INK, width: 1.3 } }
      }
    },
    plugins: [{ id: 'decor', afterDraw(chart) { drawTexts(chart.ctx, p, left, top); } }]
  });
});

// legend
const legend = document.getElementById('legend');
legend.innerHTML =
  `<div class="sw" style="left:745px;top:96px;background:#d4373d"></div>` +
  `<div class="lg" style="left:790px;top:94px">${groupNames[0]}</div>` +
  `<div class="sw" style="left:745px;top:117px;background:#4a80b1"></div>` +
  `<div class="lg" style="left:790px;top:115px">${groupNames[1]}</div>` +
  `<svg style="position:absolute;left:755px;top:138px" width="14" height="21"><polygon points="7,0 14,10.5 7,21 0,10.5" fill="#3d3d3d"/></svg>` +
  `<div class="lg" style="left:790px;top:140px">${groupNames[2]}</div>`;
</script>
</body>
</html>
